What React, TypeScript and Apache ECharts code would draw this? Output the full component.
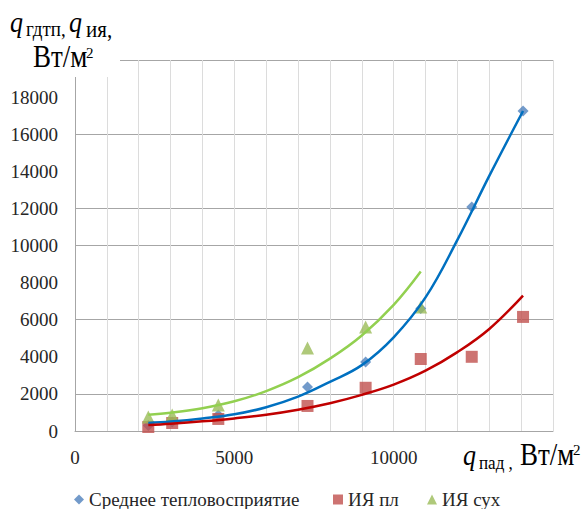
import React, { useEffect, useRef } from 'react';
import * as echarts from 'echarts';

// Measured points (q_пад, Вт/м²)
const xAll = [2300, 3050, 4497, 7296, 9120, 10850, 12450, 14060];
const xDry = [2300, 3050, 4497, 7296, 9120, 10850];
// Series values
const avgHeat = [300, 480, 860, 2370, 3720, 6600, 12075, 17250];
const iyaPl = [215, 430, 650, 1350, 2330, 3880, 4000, 6150];
const iyaSukh = [750, 860, 1400, 4470, 5600, 6680];
// Trend lines
const trendX = [2300, 3000, 4000, 5000, 6000, 7000, 8000, 9000, 10000, 11000, 12000, 13000, 14060];
const trendAvg = [430, 510, 680, 900, 1280, 1850, 2650, 3550, 5050, 7200, 10300, 13750, 17250];
const trendPl = [320, 390, 520, 680, 880, 1150, 1500, 1950, 2500, 3250, 4250, 5500, 7300];
const trendDryX = [2300, 3000, 4000, 5000, 6000, 7000, 8000, 9000, 10000, 10850];
const trendSukh = [880, 990, 1230, 1600, 2150, 2900, 3900, 5150, 6800, 8600];

const seriesNames = ['Среднее тепловосприятие', 'ИЯ пл', 'ИЯ сух'];

const FONT = 'serif';

const pairs = (xs: number[], ys: number[]) => xs.map((x, i) => [x, ys[i]]);

// horizontal grid lines as seen in the picture (0..20000 step 2000)
const GRAY = '#a6a6a6';
const NONE = 'rgba(0,0,0,0)';
const hLineColors = [GRAY, GRAY, NONE, GRAY, NONE, GRAY, GRAY, NONE, GRAY, NONE, GRAY];

export default function App() {
  const ref = useRef<HTMLDivElement>(null);
  useEffect(() => {
    document.body.style.margin = '0';
    const chart = echarts.init(ref.current!, null, { renderer: 'svg' });
    const txt = (text: string, x: number, y: number, size: number, italic: boolean, scaleY: number) => ({
      type: 'text',
      x,
      y,
      scaleY,
      z: 101,
      style: {
        text,
        fill: '#000',
        fontFamily: FONT,
        fontSize: size,
        fontStyle: italic ? 'italic' : 'normal',
        verticalAlign: 'middle',
        align: 'left',
      },
    });
    const labelStyle = { fontFamily: FONT, fontSize: 19, color: '#262626' };
    const legendCommon = { top: 490, padding: 0, itemWidth: 10, itemHeight: 10, textStyle: labelStyle };
    const option: any = {
      animation: false,
      backgroundColor: '#fff',
      textStyle: { fontFamily: FONT },
      grid: { left: 75, right: 29, top: 60, bottom: 78, containLabel: false },
      xAxis: {
        type: 'value', min: 0, max: 15000, interval: 1000,
        axisLine: { show: true, lineStyle: { color: GRAY, width: 1 } },
        axisTick: { show: false },
        splitLine: { show: true, lineStyle: { color: '#dcdcdc', width: 1 } },
        axisLabel: { margin: 17, ...labelStyle,
          formatter: (v: number) => (v % 5000 === 0 && v < 15000 ? String(v) : '') },
      },
      yAxis: {
        type: 'value', min: 0, max: 20000, interval: 2000,
        axisLine: { show: true, lineStyle: { color: GRAY, width: 1 } },
        axisTick: { show: false },
        splitLine: { show: true, lineStyle: { color: hLineColors, width: 1 } },
        axisLabel: { margin: 17, ...labelStyle, formatter: (v: number) => (v < 20000 ? String(v) : '') },
      },
      legend: [
        { ...legendCommon, data: [seriesNames[0]], left: 74 },
        { ...legendCommon, data: [seriesNames[1]], left: 333 },
        { ...legendCommon, data: [seriesNames[2]], left: 427 },
      ],
      series: [
        { name: seriesNames[0], type: 'scatter', symbol: 'diamond', symbolSize: 11, z: 2,
          itemStyle: { color: '#4F81BD' }, data: pairs(xAll, avgHeat) },
        { name: seriesNames[1], type: 'scatter', symbol: 'rect', symbolSize: 12, z: 2,
          itemStyle: { color: '#C0504D' }, data: pairs(xAll, iyaPl) },
        { name: seriesNames[2], type: 'scatter', symbol: 'triangle', symbolSize: 13, z: 2,
          itemStyle: { color: '#9BBB59' }, data: pairs(xDry, iyaSukh) },
        { name: 'trendAvg', type: 'line', smooth: 0.4, showSymbol: false, z: 3,
          lineStyle: { color: '#0070C0', width: 2.5 }, data: pairs(trendX, trendAvg) },
        { name: 'trendPl', type: 'line', smooth: 0.4, showSymbol: false, z: 3,
          lineStyle: { color: '#C00000', width: 2.5 }, data: pairs(trendX, trendPl) },
        { name: 'trendSukh', type: 'line', smooth: 0.4, showSymbol: false, z: 3,
          lineStyle: { color: '#92D050', width: 2.5 }, data: pairs(trendDryX, trendSukh) },
      ],
      graphic: [
        { type: 'rect', z: 100, shape: { x: 0, y: 0, width: 120, height: 77 }, style: { fill: '#fff' } },
        txt('q', 10, 23, 26, true, 1.1),
        txt('гдтп,', 26, 29, 19, false, 1.1),
        txt('q', 69, 23, 26, true, 1.1),
        txt('ия,', 86, 29, 21, false, 1.1),
        txt('Вт/м', 33, 56, 27, false, 1.15),
        txt('2', 86, 53, 15, false, 1),
        txt('q', 463, 456, 26, true, 1.1),
        txt('пад ,', 479, 463, 17, false, 1.1),
        txt('Вт/м', 520, 454, 27, false, 1.15),
        txt('2', 573, 450, 15, false, 1),
      ],
    };
    chart.setOption(option);
    return () => chart.dispose();
  }, []);
  return <div ref={ref} style={{ position: 'absolute', left: 0, top: 0, width: 582, height: 509 }} />;
}
